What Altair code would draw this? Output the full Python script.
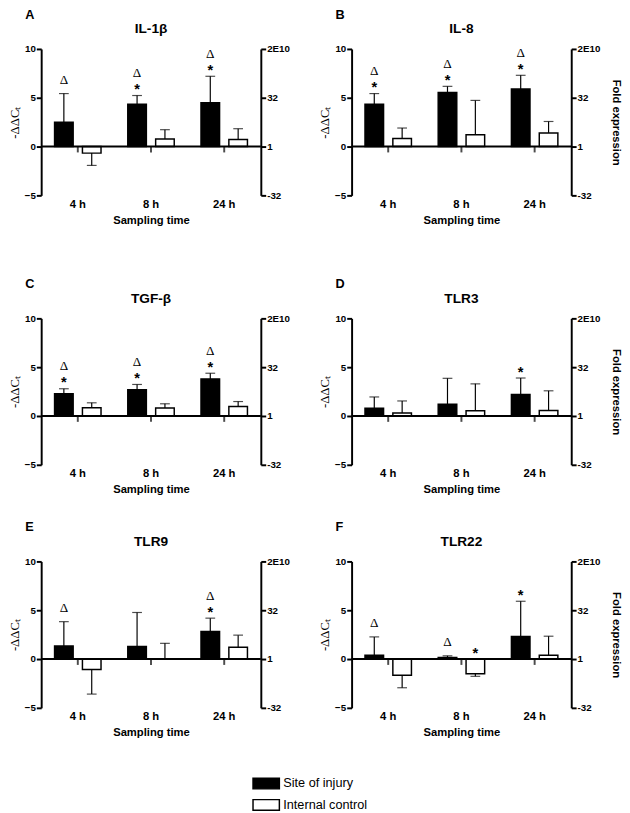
import altair as alt
import pandas as pd

letters = ["A", "B", "C", "D", "E", "F"]
genes = ["IL-1β", "IL-8", "TGF-β", "TLR3", "TLR9", "TLR22"]
times = ["4 h", "8 h", "24 h"]
groups = ["Site of injury", "Internal control"]

injury_mean = [
    [2.5, 4.33, 4.5],
    [4.33, 5.53, 5.9],
    [2.29, 2.69, 3.8],
    [0.8, 1.21, 2.21],
    [1.34, 1.28, 2.82],
    [0.4, 0.17, 2.31],
]
injury_sd = [
    [2.93, 0.9, 2.7],
    [1.1, 0.64, 1.4],
    [0.5, 0.54, 0.58],
    [1.15, 2.65, 1.68],
    [2.49, 3.49, 1.37],
    [1.87, 0.16, 3.61],
]
control_mean = [
    [-0.67, 0.77, 0.73],
    [0.83, 1.2, 1.4],
    [0.84, 0.81, 0.98],
    [0.3, 0.54, 0.57],
    [-1.07, 0.0, 1.21],
    [-1.67, -1.5, 0.4],
]
control_sd = [
    [1.26, 0.96, 1.1],
    [1.07, 3.53, 1.17],
    [0.51, 0.44, 0.5],
    [1.24, 2.75, 2.01],
    [2.52, 1.61, 1.24],
    [1.27, 0.27, 1.94],
]
injury_marks = [
    ["Δ", "Δ*", "Δ*"],
    ["Δ*", "Δ*", "Δ*"],
    ["Δ*", "Δ*", "Δ*"],
    ["", "", "*"],
    ["Δ", "", "Δ*"],
    ["Δ", "Δ", "*"],
]
control_marks = [
    ["", "", ""],
    ["", "", ""],
    ["", "", ""],
    ["", "", ""],
    ["", "", ""],
    ["", "*", ""],
]
left_ticks = [-5, 0, 5, 10]
right_labels = ["-32", "1", "32", "2E10"]

rows = []
for gi, g in enumerate(genes):
    for ti, t in enumerate(times):
        for grp, means, sds, marks in [
            (groups[0], injury_mean, injury_sd, injury_marks),
            (groups[1], control_mean, control_sd, control_marks),
        ]:
            m = means[gi][ti]
            s = sds[gi][ti]
            end = m + s if m >= 0 else m - s
            base = end if m >= 0 else 0.0
            mk = marks[gi][ti]
            rows.append(dict(gene=g, time=t, group=grp, mean=m, end=end, zero=0.0,
                             base=base, star="*" in mk, delta="Δ" in mk))
df = pd.DataFrame(rows)

SANS = "Liberation Sans"
SERIF = "Liberation Serif"

x_scale = alt.Scale(domain=times, paddingInner=0, paddingOuter=0)
off_scale = alt.Scale(domain=groups, paddingInner=0.333, paddingOuter=0.48)
y_scale = alt.Scale(domain=[-5, 10], nice=False, zero=False)
x_axis = alt.Axis(domain=False, ticks=False, labelAngle=0, labelFont=SANS, labelFontSize=11.5,
                  labelFontWeight="bold", labelColor="black", labelPadding=3,
                  title="Sampling time", titleFont=SANS, titleFontSize=11.5,
                  titleFontWeight="bold", titleColor="black", titlePadding=5)

label_expr = " : ".join(f"datum.value == {v} ? '{l}'" for v, l in zip(left_ticks, right_labels)) + " : ''"

legend = alt.Legend(title=None, orient="none", legendX=223, legendY=745, direction="vertical",
                    symbolType="M-2,-0.815L2,-0.815L2,0.815L-2,0.815Z", symbolSize=182,
                    symbolStrokeColor="black", symbolStrokeWidth=1.5,
                    labelFont=SANS, labelFontSize=13, labelColor="black", labelOffset=10,
                    rowPadding=5)


def X():
    return alt.X("time:N", scale=x_scale, axis=x_axis)


def XO():
    return alt.XOffset("group:N", scale=off_scale)


def Yn(field):
    return alt.Y(field, scale=y_scale, axis=None)


def panel(i):
    d = df[df.gene == genes[i]]
    right_col = i % 2 == 1
    left_axis = alt.Axis(orient="left", values=left_ticks, grid=False, title="-ΔΔCₜ",
                         titleFont=SERIF, titleFontSize=13, titleFontWeight="normal",
                         titleColor="black", titlePadding=3,
                         labelFont=SANS, labelFontSize=10, labelFontWeight="bold",
                         labelColor="black", labelPadding=1, tickSize=5, tickWidth=2,
                         tickColor="black", domainColor="black", domainWidth=2)
    raxis_kw = dict(orient="right", values=left_ticks, labelExpr=label_expr, grid=False,
                    labelFont=SANS, labelFontSize=10, labelFontWeight="bold",
                    labelColor="black", labelPadding=1, tickSize=5, tickWidth=2,
                    tickColor="black", domainColor="black", domainWidth=2)
    if right_col:
        right_axis = alt.Axis(title="Fold expression", titleFont=SANS, titleFontSize=11.5,
                              titleFontWeight="bold", titleColor="black", titleAngle=90,
                              titlePadding=11, **raxis_kw)
    else:
        right_axis = alt.Axis(title=None, **raxis_kw)

    bars = alt.Chart(d).mark_bar(stroke="black", strokeWidth=1.5).encode(
        x=X(), xOffset=XO(),
        y=alt.Y("mean:Q", scale=y_scale, axis=left_axis),
        y2="zero:Q",
        color=alt.Color("group:N", scale=alt.Scale(domain=groups, range=["black", "white"]),
                        legend=legend),
    )
    err = alt.Chart(d).mark_rule(color="black", strokeWidth=1.2).encode(
        x=X(), xOffset=XO(),
        y=alt.Y("mean:Q", scale=y_scale, axis=right_axis),
        y2="end:Q",
    )
    caps = alt.Chart(d).mark_tick(color="black", thickness=1.2, size=10, orient="horizontal").encode(
        x=X(), xOffset=XO(), y=Yn("end:Q"),
    )
    zd = pd.DataFrame({"time": times, "zero": [0.0] * len(times)})
    zero = alt.Chart(zd.head(1)).mark_rule(color="black", strokeWidth=2).encode(y=Yn("zero:Q"))
    xt = alt.Chart(zd).mark_tick(color="black", thickness=2, size=6, orient="vertical",
                                 yOffset=3).encode(x=X(), y=Yn("zero:Q"))
    stars = alt.Chart(d[d.star]).mark_text(text="*", font=SANS, fontSize=15, fontWeight="bold",
                                           baseline="middle", dy=-6.3, color="black").encode(
        x=X(), xOffset=XO(), y=Yn("base:Q"))
    d1 = alt.Chart(d[d.delta & ~d.star]).mark_text(text="Δ", font=SERIF, fontSize=13.5,
                                                   baseline="middle", dy=-14, color="black").encode(
        x=X(), xOffset=XO(), y=Yn("base:Q"))
    d2 = alt.Chart(d[d.delta & d.star]).mark_text(text="Δ", font=SERIF, fontSize=13.5,
                                                  baseline="middle", dy=-23, color="black").encode(
        x=X(), xOffset=XO(), y=Yn("base:Q"))

    p = alt.layer(bars, err, caps, zero, xt, stars, d1, d2).resolve_axis(y="independent").properties(
        width=225, height=150,
        title=alt.TitleParams(genes[i], font=SANS, fontSize=14, fontWeight="bold", color="black",
                              anchor="middle", frame="group", offset=8),
    )
    return alt.vconcat(p, title=alt.TitleParams(letters[i], anchor="start", dx=17, font=SANS,
                                                fontSize=13, fontWeight="bold", color="black",
                                                offset=1))


def row(r):
    return alt.hconcat(panel(2 * r), panel(2 * r + 1), spacing=29)


top = alt.vconcat(row(0), row(1), spacing=54)
chart = alt.vconcat(top, row(2), spacing=27).properties(
    padding={"top": -9, "left": 0, "right": 0, "bottom": 0}
).configure_view(strokeWidth=0)

chart.save("out.html", embed_options={"renderer": "svg", "actions": False})
